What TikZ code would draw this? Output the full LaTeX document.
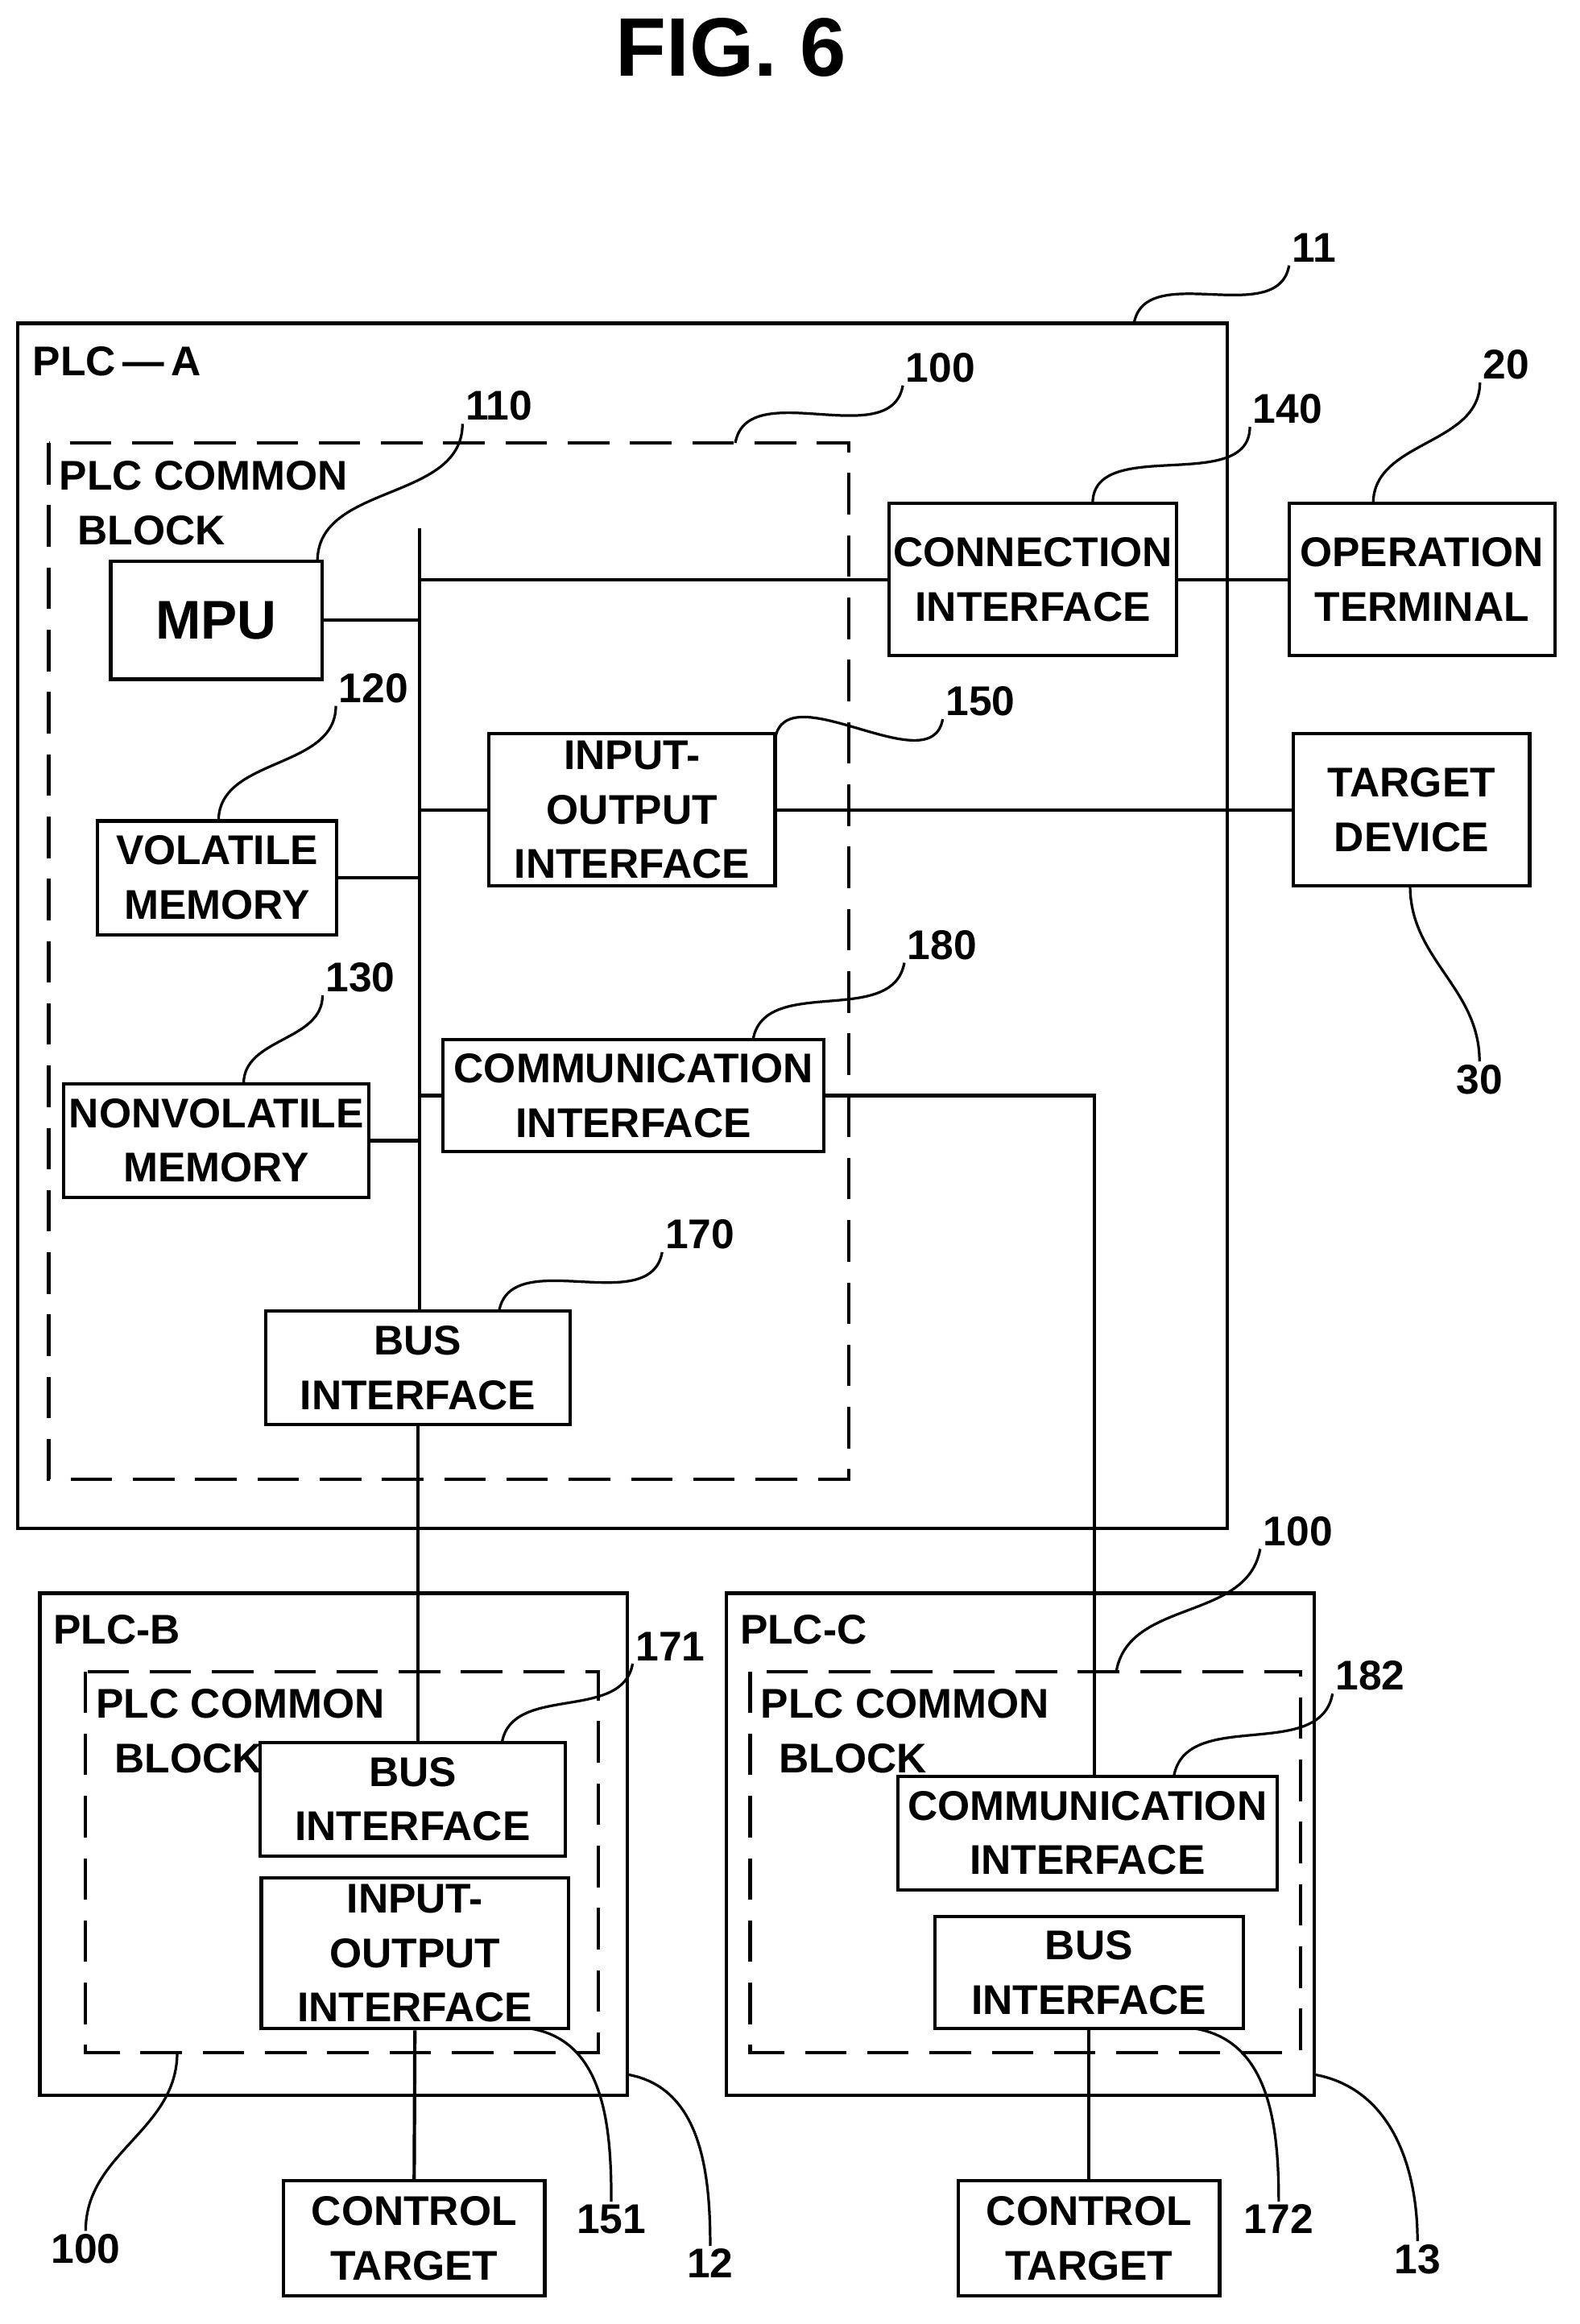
\documentclass[tikz,border=0pt]{standalone}
\usepackage{fontspec}
\setmainfont{Liberation Sans}
\usetikzlibrary{calc}
\tikzset{
  blk/.style={draw, line width=1.3pt, align=center, inner sep=0pt},
  lbl/.style={inner sep=1pt},
  leader/.style={line width=1pt},
  wire/.style={line width=1.3pt},
}
\begin{document}
\begin{tikzpicture}[x=0.02cm, y=-0.02cm, font=\fontsize{16}{21}\selectfont\bfseries]
\useasboundingbox (0,0) rectangle (1070,1574);
\node (title) at (495,32) {\fontsize{32}{36}\selectfont FIG. 6};

% PLC-A
\draw[wire] (12,219) rectangle (831,1035);
\node[anchor=west] (plca) at (16,245) {PLC\,---\,A};
\draw[line width=1.3pt, dash pattern=on 16pt off 8pt] (33,300) rectangle (575,1002);
\node[anchor=north west, align=left] (cba) at (34,306) {PLC COMMON\\\hspace{0.25cm}BLOCK};

\node[blk, minimum width=2.86cm, minimum height=1.6cm] (mpu) at (146.5,420) {\fontsize{21}{24}\selectfont MPU};
\node[blk, minimum width=3.24cm, minimum height=1.54cm] (vol) at (147,594.5) {VOLATILE\\MEMORY};
\node[blk, minimum width=4.14cm, minimum height=1.54cm] (nvol) at (146.5,772.5) {NONVOLATILE\\MEMORY};
\node[blk, minimum width=3.88cm, minimum height=2.06cm] (io) at (428,548.5) {INPUT-\\OUTPUT\\INTERFACE};
\node[blk, minimum width=5.16cm, minimum height=1.52cm] (comm) at (429,742) {COMMUNICATION\\INTERFACE};
\node[blk, minimum width=4.12cm, minimum height=1.54cm] (bus) at (283,926.5) {BUS\\INTERFACE};
\node[blk, minimum width=3.9cm, minimum height=2.06cm] (conn) at (699.5,392.5) {CONNECTION\\INTERFACE};
\node[blk, minimum width=3.6cm, minimum height=2.06cm] (opt) at (963,392.5) {OPERATION\\TERMINAL};
\node[blk, minimum width=3.2cm, minimum height=2.06cm] (tgt) at (956,548.5) {TARGET\\DEVICE};
\coordinate (bustop) at (284,358);

\draw[wire] (bustop) -- (bustop |- bus.north);
\draw[wire] (mpu.east) -- (mpu.east -| bustop);
\draw[wire] (conn.west) -- (conn.west -| bustop);
\draw[wire] (conn.east) -- (opt.west);
\draw[wire] (io.west) -- (io.west -| bustop);
\draw[wire] (io.east) -- (tgt.west);
\draw[wire] (vol.east) -- (vol.east -| bustop);
\draw[wire] (nvol.east) -- (nvol.east -| bustop);
\draw[wire] (comm.west) -- (comm.west -| bustop);

% PLC-B
\draw[wire] (27,1079) rectangle (425,1419);
\node[anchor=west] (plcb) at (30,1104) {PLC-B};
\draw[line width=1.3pt, dash pattern=on 16pt off 8pt] (58,1132) rectangle (405,1390);
\node[anchor=north west, align=left] (cbb) at (59,1138) {PLC COMMON\\\hspace{0.25cm}BLOCK};
\node[blk, minimum width=4.14cm, minimum height=1.54cm] (busb) at (279.5,1218.5) {BUS\\INTERFACE};
\node[blk, minimum width=4.16cm, minimum height=2.04cm] (iob) at (281,1323) {INPUT-\\OUTPUT\\INTERFACE};
\node[blk, minimum width=3.54cm, minimum height=1.56cm] (ctb) at (280.5,1516) {CONTROL\\TARGET};

% PLC-C
\draw[wire] (492,1079) rectangle (890,1419);
\node[anchor=west] (plcc) at (495,1104) {PLC-C};
\draw[line width=1.3pt, dash pattern=on 16pt off 8pt] (508,1132) rectangle (881,1390);
\node[anchor=north west, align=left] (cbc) at (509,1138) {PLC COMMON\\\hspace{0.25cm}BLOCK};
\node[blk, minimum width=5.14cm, minimum height=1.54cm] (commc) at (736.5,1241.5) {COMMUNICATION\\INTERFACE};
\node[blk, minimum width=4.18cm, minimum height=1.52cm] (busc) at (737.5,1336) {BUS\\INTERFACE};
\node[blk, minimum width=3.54cm, minimum height=1.56cm] (ctc) at (737.5,1516) {CONTROL\\TARGET};

\draw[wire] (bus.south) -- (bus.south |- busb.north);
\draw[wire] (comm.east) -| ($(commc.north)+(4.5,0)$);
\draw[wire] (iob.south) -- (ctb.north);
\draw[wire] (busc.south) -- (ctc.north);

% reference numerals
\node[lbl] (n11) at (890,168) {11};
\node[lbl] (n100a) at (637,249) {100};
\node[lbl] (n110) at (338,275) {110};
\node[lbl] (n140) at (872,277) {140};
\node[lbl] (n20) at (1020,247) {20};
\node[lbl] (n120) at (253,466) {120};
\node[lbl] (n150) at (664,475) {150};
\node[lbl] (n30) at (1002,731) {30};
\node[lbl] (n180) at (638,640) {180};
\node[lbl] (n130) at (244,662) {130};
\node[lbl] (n170) at (474,836) {170};
\node[lbl] (n100c) at (879,1037) {100};
\node[lbl] (n171) at (454,1115) {171};
\node[lbl] (n182) at (928,1135) {182};
\node[lbl] (n100b) at (58,1523) {100};
\node[lbl] (n151) at (414,1503) {151};
\node[lbl] (n12) at (481,1533) {12};
\node[lbl] (n172) at (866,1503) {172};
\node[lbl] (n13) at (960,1530) {13};

\draw[leader] (768,219) to[out=80,in=-100] (n11.south west);
\draw[leader] (498,300) to[out=80,in=-100] (n100a.south west);
\draw[leader] (215,380) to[out=90,in=-90] (n110.south west);
\draw[leader] (740,341) to[out=90,in=-90] (n140.south west);
\draw[leader] (930,341) to[out=90,in=-90] (n20.south west);
\draw[leader] (148,556) to[out=90,in=-90] (n120.south west);
\draw[leader] (525,500) to[out=80,in=-100] (n150.south west);
\draw[leader] (955,600) to[out=-90,in=90] (n30.north);
\draw[leader] (510,704) to[out=80,in=-100] (n180.south west);
\draw[leader] (165,734) to[out=90,in=-90] (n130.south west);
\draw[leader] (338,888) to[out=80,in=-100] (n170.south west);
\draw[leader] (756,1132) to[out=80,in=-100] (n100c.south west);
\draw[leader] (340,1180) to[out=80,in=-100] (n171.south west);
\draw[leader] (795,1203) to[out=80,in=-100] (n182.south west);
\draw[leader] (120,1390) to[out=-90,in=90] (n100b.north);
\draw[leader] (360,1374) to[out=-10,in=90] (n151.north);
\draw[leader] (425,1405) to[out=-10,in=90] (n12.north);
\draw[leader] (810,1374) to[out=-10,in=90] (n172.north);
\draw[leader] (890,1405) to[out=-10,in=90] (n13.north);
\end{tikzpicture}
\end{document}
